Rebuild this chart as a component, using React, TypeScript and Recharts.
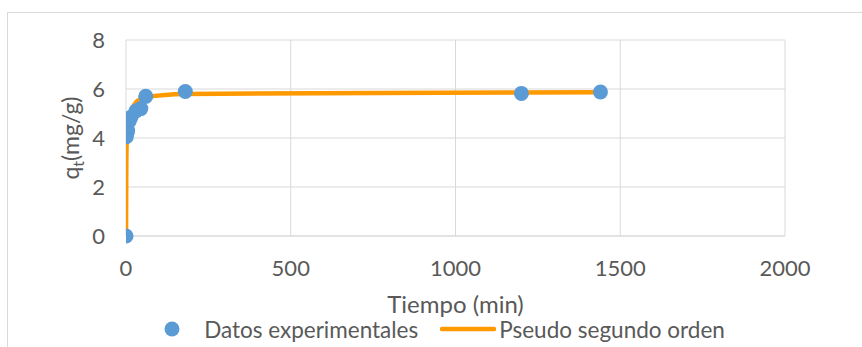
import React from "react";
import {
  ComposedChart,
  Scatter,
  Line,
  XAxis,
  YAxis,
  CartesianGrid,
  Legend,
} from "recharts";

// Experimental data: time (min) and q_t (mg/g)
const expTimes = [0, 1, 3, 5, 10, 15, 30, 45, 60, 180, 1200, 1440];
const expQ = [0, 4.05, 4.2, 4.3, 4.7, 4.85, 5.1, 5.2, 5.7, 5.9, 5.82, 5.88];

// Pseudo second order model curve
const fitTimes = [0, 1, 3, 5, 10, 15, 30, 45, 60, 180, 1200, 1440];
const fitQ = [0, 3.0, 4.2, 4.5, 4.9, 5.1, 5.45, 5.6, 5.67, 5.8, 5.86, 5.87];

const xTicks = [0, 500, 1000, 1500, 2000];
const yTicks = [0, 2, 4, 6, 8];

const seriesNames = ["Datos experimentales", "Pseudo segundo orden"];
const xTitle = "Tiempo (min)";

const expData = expTimes.map((t, i) => ({ t, q: expQ[i] }));
const fitData = fitTimes.map((t, i) => ({ t, q: fitQ[i] }));

const FONT = "Lato, 'Open Sans', sans-serif";
const TEXT = "#595959";
const GRID = "#d9d9d9";
const BLUE = "#5b9bd5";
const ORANGE = "#ff9900";

const Dot = (props: any) => {
  const { cx, cy } = props;
  if (cx == null || cy == null) return null;
  return <circle cx={cx} cy={cy} r={7.5} fill={BLUE} />;
};

const YTitle = (props: any) => {
  const vb = props.viewBox || { x: 0, y: 40, width: 126, height: 196 };
  const cx = vb.x + 79;
  const cy = vb.y + vb.height / 2;
  return (
    <text
      x={cx}
      y={cy}
      transform={`rotate(-90, ${cx}, ${cy})`}
      textAnchor="middle"
      fill={TEXT}
      fontFamily={FONT}
      fontSize={23}
    >
      q
      <tspan dy={5} fontSize={16}>
        t
      </tspan>
      <tspan dy={-5}>(mg/g)</tspan>
    </text>
  );
};

const XTitle = (props: any) => {
  const vb = props.viewBox || { x: 126, y: 236, width: 659, height: 111 };
  return (
    <text
      x={vb.x + vb.width / 2}
      y={vb.y + 77}
      textAnchor="middle"
      fill={TEXT}
      fontFamily={FONT}
      fontSize={24}
    >
      {xTitle}
    </text>
  );
};

const LegendContent = () => (
  <div
    style={{
      display: "flex",
      justifyContent: "center",
      alignItems: "center",
      paddingLeft: 27,
      fontFamily: FONT,
      fontSize: 22.5,
      color: TEXT,
      height: 30,
      whiteSpace: "nowrap",
    }}
  >
    <svg width={16} height={16} style={{ marginRight: 24 }}>
      <circle cx={8} cy={8} r={7.5} fill={BLUE} />
    </svg>
    <span style={{ marginRight: 22 }}>{seriesNames[0]}</span>
    <svg width={56} height={6} style={{ marginRight: 3 }}>
      <line x1={2} y1={3} x2={54} y2={3} stroke={ORANGE} strokeWidth={4.5} strokeLinecap="round" />
    </svg>
    <span>{seriesNames[1]}</span>
  </div>
);

export default function App() {
  return (
    <div
      style={{
        position: "absolute",
        left: 0,
        top: 0,
        width: 862,
        height: 347,
        overflow: "hidden",
        background: "#fff",
      }}
    >
      <div
        style={{
          position: "absolute",
          left: 7,
          top: 12,
          width: 900,
          height: 400,
          border: `1px solid ${GRID}`,
          boxSizing: "border-box",
        }}
      />
      <div style={{ position: "absolute", left: 0, top: 0 }}>
        <ComposedChart
          width={862}
          height={347}
          margin={{ top: 40, right: 77, left: 0, bottom: 0 }}
        >
          <CartesianGrid stroke={GRID} strokeWidth={1} />
          <XAxis
            type="number"
            dataKey="t"
            domain={[0, 2000]}
            ticks={xTicks}
            interval={0}
            height={111}
            tickLine={false}
            tickSize={0}
            tickMargin={24}
            axisLine={{ stroke: GRID }}
            tick={{ fill: TEXT, fontFamily: FONT, fontSize: 22 }}
            allowDataOverflow
            label={<XTitle />}
          />
          <YAxis
            type="number"
            dataKey="q"
            domain={[0, 8]}
            ticks={yTicks}
            interval={0}
            width={126}
            tickLine={false}
            tickSize={0}
            tickMargin={21}
            axisLine={false}
            tick={{ fill: TEXT, fontFamily: FONT, fontSize: 22 }}
            label={<YTitle />}
          />
          <Scatter
            name={seriesNames[0]}
            data={expData}
            dataKey="q"
            fill={BLUE}
            shape={<Dot />}
            isAnimationActive={false}
          />
          <Line
            name={seriesNames[1]}
            data={fitData}
            dataKey="q"
            type="monotone"
            stroke={ORANGE}
            strokeWidth={4.5}
            dot={false}
            activeDot={false}
            isAnimationActive={false}
          />
          <Legend
            verticalAlign="middle"
            align="center"
            layout="horizontal"
            wrapperStyle={{ top: 314, left: 0, width: 862 }}
            content={<LegendContent />}
          />
        </ComposedChart>
      </div>
    </div>
  );
}
